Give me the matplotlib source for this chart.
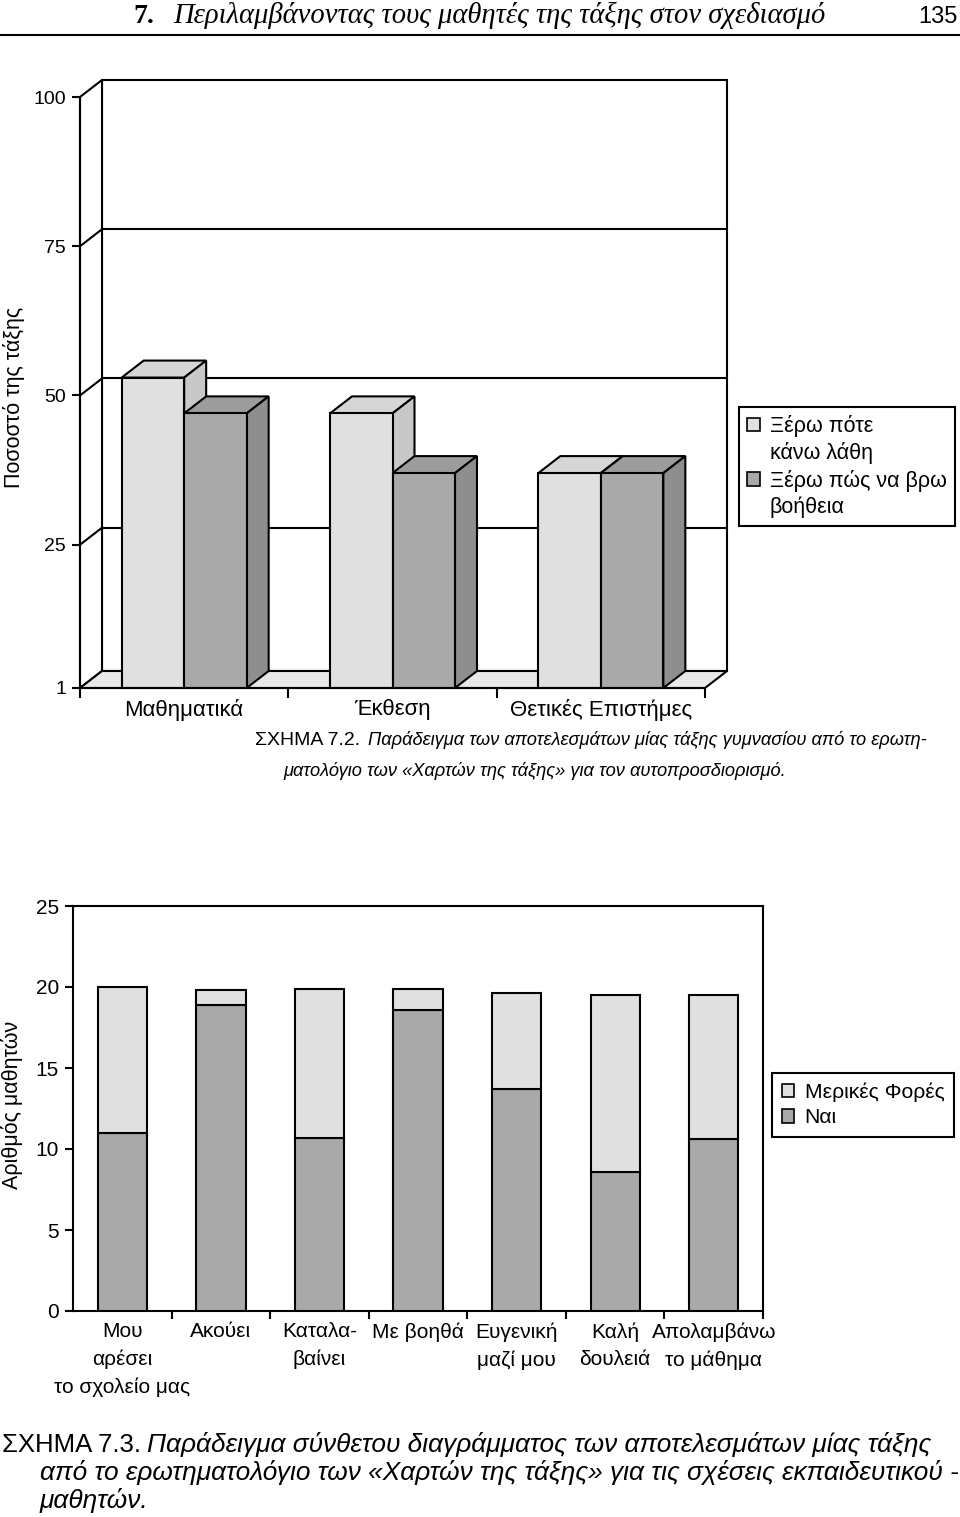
import numpy as np
import matplotlib.pyplot as plt
from matplotlib.patches import Polygon, Patch
from matplotlib.lines import Line2D

plt.rcParams['font.family'] = ['Liberation Sans', 'DejaVu Sans']

# --- Figure 7.2: 3D grouped columns (percent of class) ---
subjects = ['Μαθηματικά', 'Έκθεση', 'Θετικές Επιστήμες']
know_mistakes = [53, 47, 37]   # Ξέρω πότε κάνω λάθη
know_help = [47, 37, 37]       # Ξέρω πώς να βρω βοήθεια
legend1 = ['Ξέρω πότε', 'κάνω λάθη', 'Ξέρω πώς να βρω', 'βοήθεια']
yticks1 = [1, 25, 50, 75, 100]

# --- Figure 7.3: stacked columns (number of pupils) ---
items = ['Μου\nαρέσει\nτο σχολείο μας', 'Ακούει', 'Καταλα-\nβαίνει', 'Με βοηθά',
         'Ευγενική\nμαζί μου', 'Καλή\nδουλειά', 'Απολαμβάνω\nτο μάθημα']
yes = [11.0, 18.9, 10.7, 18.6, 13.7, 8.6, 10.6]          # Ναι
sometimes = [9.0, 0.9, 9.2, 1.3, 5.9, 10.9, 8.9]        # Μερικές Φορές
legend2 = ['Μερικές Φορές', 'Ναι']
yticks2 = [0, 5, 10, 15, 20, 25]

light = '#e0e0e0'
dark = '#a9a9a9'
light_top, light_side = '#d6d6d6', '#c8c8c8'
dark_top, dark_side = '#9c9c9c', '#8e8e8e'
floor_col = '#e8e8e8'

W, H = 960, 1517
fig = plt.figure(figsize=(W / 100, H / 100), dpi=100)
fig.patch.set_facecolor('white')
renderer = fig.canvas.get_renderer()


def fit_width(t, target):
    """Scale a text's font size so that it spans `target` pixels."""
    bb = t.get_window_extent(renderer)
    t.set_fontsize(t.get_fontsize() * target / bb.width)
    return t.get_fontsize()


# header
fig.text(133 / W, 1 - 23 / H, '7.', family='Liberation Serif', fontweight='bold',
         fontsize=20, va='baseline')
hdr = fig.text(173 / W, 1 - 23 / H, 'Περιλαμβάνοντας τους μαθητές της τάξης στον σχεδιασμό',
               family='Liberation Serif', style='italic', fontsize=20, va='baseline')
fit_width(hdr, 651)
fig.text(958 / W, 1 - 23 / H, '135', fontsize=17, ha='right', va='baseline')
fig.add_artist(Line2D([0, 1], [1 - 35 / H] * 2, transform=fig.transFigure,
                      color='black', lw=1.5))

# ---------------- chart 1 ----------------
ax1 = fig.add_axes([80 / W, 1 - 688 / H, 625 / W, 591 / H])
ax1.set_xlim(0, 3)
ax1.set_ylim(1, 100)
ax1.patch.set_visible(False)
n1 = len(subjects)
dx = 22 / 625 * n1
dy = 17 / 591 * 99
lw = 1.5

# back wall, left wall, floor
ax1.add_patch(Polygon([(dx, 1 + dy), (n1 + dx, 1 + dy), (n1 + dx, 100 + dy), (dx, 100 + dy)],
                      closed=True, facecolor='white', edgecolor='black', lw=lw,
                      clip_on=False, zorder=1))
ax1.add_patch(Polygon([(0, 1), (dx, 1 + dy), (dx, 100 + dy), (0, 100)],
                      closed=True, facecolor='white', edgecolor='black', lw=lw,
                      clip_on=False, zorder=1))
for v in yticks1[1:-1]:
    ax1.plot([dx, n1 + dx], [v + dy, v + dy], color='black', lw=lw, clip_on=False, zorder=1.5)
    ax1.plot([0, dx], [v, v + dy], color='black', lw=lw, clip_on=False, zorder=1.5)
ax1.add_patch(Polygon([(0, 1), (n1, 1), (n1 + dx, 1 + dy), (dx, 1 + dy)],
                      closed=True, facecolor=floor_col, edgecolor='black', lw=lw,
                      clip_on=False, zorder=2))

w1 = 0.30
xc = np.arange(n1) + 0.5
z = 3
for i in range(n1):
    for left, val, fc, tc, sc in [(xc[i] - w1, know_mistakes[i], light, light_top, light_side),
                                  (xc[i], know_help[i], dark, dark_top, dark_side)]:
        ax1.bar(left, val - 1, width=w1, bottom=1, align='edge', color=fc,
                edgecolor='black', lw=lw, zorder=z + 1)
        ax1.add_patch(Polygon([(left, val), (left + w1, val), (left + w1 + dx, val + dy),
                               (left + dx, val + dy)], closed=True, facecolor=tc,
                              edgecolor='black', lw=lw, clip_on=False, zorder=z))
        ax1.add_patch(Polygon([(left + w1, 1), (left + w1 + dx, 1 + dy), (left + w1 + dx, val + dy),
                               (left + w1, val)], closed=True, facecolor=sc,
                              edgecolor='black', lw=lw, clip_on=False, zorder=z))
        z += 2

for s in ['top', 'right']:
    ax1.spines[s].set_visible(False)
for s in ['left', 'bottom']:
    ax1.spines[s].set_linewidth(lw)
    ax1.spines[s].set_zorder(20)
ax1.set_yticks(yticks1)
ax1.set_yticklabels([str(t) for t in yticks1], fontsize=14)
ax1.tick_params(axis='y', length=6, width=lw, pad=4)
ax1.set_xticks(np.arange(n1 + 1))
ax1.set_xticklabels([])
ax1.tick_params(axis='x', which='major', length=7, width=lw)
ax1.set_xticks(xc, minor=True)
ax1.set_xticklabels(subjects, minor=True, fontsize=16)
ax1.tick_params(axis='x', which='minor', length=0, pad=8)

fig.text(14 / W, 1 - 397 / H, 'Ποσοστό της τάξης', rotation=90, fontsize=15.5,
         ha='center', va='center')

blank = Patch(facecolor='none', edgecolor='none')
handles1 = [Patch(facecolor=light, edgecolor='black', lw=1.2), blank,
            Patch(facecolor=dark, edgecolor='black', lw=1.2), blank]
leg1 = ax1.legend(handles1, legend1, loc='upper left', bbox_to_anchor=(739 / W, 1 - 407 / H),
                  bbox_transform=fig.transFigure, fontsize=15.5, frameon=True, fancybox=False,
                  edgecolor='black', framealpha=1, borderaxespad=0, handlelength=0.6,
                  handleheight=0.6, handletextpad=0.45, labelspacing=0.24, borderpad=0.38)
leg1.get_frame().set_linewidth(lw)

# caption 7.2
fig.text(255 / W, 1 - 745 / H, 'ΣΧΗΜΑ 7.2.', fontsize=14, va='baseline')
c1 = fig.text(368 / W, 1 - 745 / H,
              'Παράδειγμα των αποτελεσμάτων μίας τάξης γυμνασίου από το ερωτη-',
              fontsize=14, style='italic', va='baseline')
fs1 = fit_width(c1, 560)
fig.text(283 / W, 1 - 776 / H,
         'ματολόγιο των «Χαρτών της τάξης» για τον αυτοπροσδιορισμό.',
         fontsize=fs1, style='italic', va='baseline')

# ---------------- chart 2 ----------------
ax2 = fig.add_axes([73 / W, 1 - 1311 / H, 690 / W, 405 / H])
n2 = len(items)
x2 = np.arange(n2) + 0.5
ax2.bar(x2, yes, width=0.5, color=dark, edgecolor='black', lw=lw, zorder=3)
ax2.bar(x2, sometimes, bottom=yes, width=0.5, color=light, edgecolor='black', lw=lw, zorder=3)
ax2.set_xlim(0, n2)
ax2.set_ylim(0, 25)
for s in ax2.spines.values():
    s.set_linewidth(lw)
ax2.set_yticks(yticks2)
ax2.set_yticklabels([str(t) for t in yticks2], fontsize=15)
ax2.tick_params(axis='y', length=6, width=lw, pad=4)
ax2.set_xticks(np.arange(1, n2 + 1))
ax2.set_xticklabels([])
ax2.tick_params(axis='x', which='major', length=6, width=lw)
ax2.set_xticks(x2, minor=True)
ax2.set_xticklabels(items, minor=True, fontsize=15, linespacing=1.55)
ax2.tick_params(axis='x', which='minor', length=0, pad=8)

fig.text(12 / W, 1 - 1105 / H, 'Αριθμός μαθητών', rotation=90, fontsize=15.5,
         ha='center', va='center')

handles2 = [Patch(facecolor=light, edgecolor='black', lw=1.2),
            Patch(facecolor=dark, edgecolor='black', lw=1.2)]
leg2 = ax2.legend(handles2, legend2, loc='upper left', bbox_to_anchor=(772 / W, 1 - 1073 / H),
                  bbox_transform=fig.transFigure, fontsize=15.2, frameon=True, fancybox=False,
                  edgecolor='black', framealpha=1, borderaxespad=0, handlelength=0.6,
                  handleheight=0.6, handletextpad=0.5, labelspacing=0.3, borderpad=0.45)
leg2.get_frame().set_linewidth(lw)

# caption 7.3
fig.text(2 / W, 1 - 1452 / H, 'ΣΧΗΜΑ 7.3.', fontsize=18.5, va='baseline')
c2 = fig.text(147 / W, 1 - 1452 / H,
              'Παράδειγμα σύνθετου διαγράμματος των αποτελεσμάτων μίας τάξης',
              fontsize=18.5, style='italic', va='baseline')
fs2 = fit_width(c2, 783)
fig.text(40 / W, 1 - 1480 / H,
         'από το ερωτηματολόγιο των «Χαρτών της τάξης» για τις σχέσεις εκπαιδευτικού -',
         fontsize=fs2, style='italic', va='baseline')
fig.text(40 / W, 1 - 1508 / H, 'μαθητών.', fontsize=fs2, style='italic', va='baseline')

fig.savefig('out.png', dpi=100, facecolor='white')
